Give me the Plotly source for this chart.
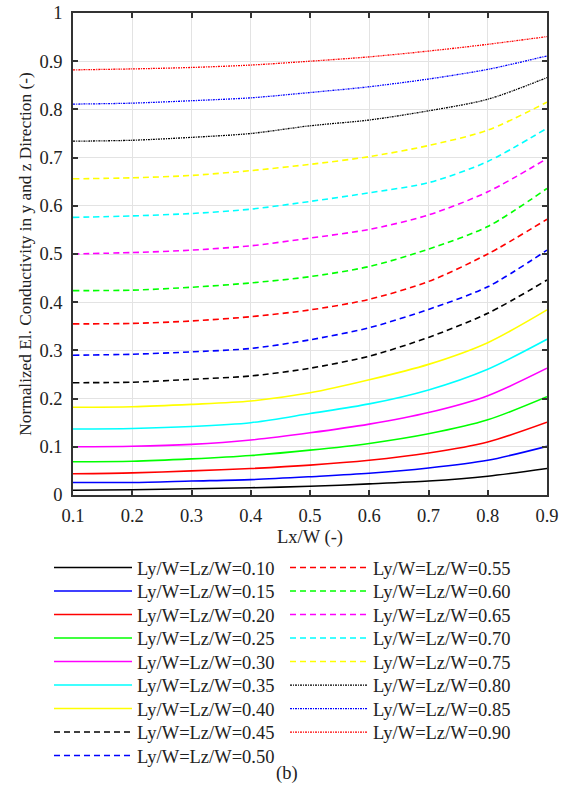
import plotly.graph_objects as go

lx = [0.1, 0.2, 0.3, 0.4, 0.5, 0.6, 0.7, 0.8, 0.9]

y010 = [0.010, 0.011, 0.013, 0.015, 0.018, 0.023, 0.029, 0.039, 0.055]
y015 = [0.026, 0.026, 0.029, 0.032, 0.038, 0.045, 0.056, 0.072, 0.101]
y020 = [0.044, 0.046, 0.050, 0.055, 0.062, 0.072, 0.087, 0.110, 0.151]
y025 = [0.069, 0.070, 0.075, 0.082, 0.093, 0.107, 0.127, 0.156, 0.204]
y030 = [0.100, 0.101, 0.105, 0.114, 0.129, 0.147, 0.171, 0.206, 0.263]
y035 = [0.137, 0.138, 0.142, 0.150, 0.169, 0.189, 0.218, 0.261, 0.323]
y040 = [0.182, 0.183, 0.188, 0.195, 0.212, 0.239, 0.271, 0.316, 0.384]
y045 = [0.233, 0.234, 0.240, 0.247, 0.263, 0.288, 0.327, 0.377, 0.446]
y050 = [0.290, 0.292, 0.297, 0.304, 0.322, 0.347, 0.385, 0.432, 0.508]
y055 = [0.355, 0.356, 0.361, 0.370, 0.384, 0.406, 0.443, 0.500, 0.572]
y060 = [0.424, 0.425, 0.431, 0.440, 0.453, 0.474, 0.510, 0.557, 0.636]
y065 = [0.500, 0.503, 0.508, 0.517, 0.533, 0.551, 0.581, 0.629, 0.698]
y070 = [0.576, 0.579, 0.584, 0.593, 0.609, 0.627, 0.648, 0.692, 0.761]
y075 = [0.656, 0.658, 0.663, 0.673, 0.686, 0.702, 0.725, 0.757, 0.815]
y080 = [0.734, 0.736, 0.742, 0.750, 0.766, 0.778, 0.797, 0.821, 0.866]
y085 = [0.811, 0.813, 0.818, 0.824, 0.835, 0.847, 0.863, 0.883, 0.911]
y090 = [0.882, 0.884, 0.887, 0.892, 0.900, 0.909, 0.921, 0.935, 0.951]

ratios = ["0.10", "0.15", "0.20", "0.25", "0.30", "0.35", "0.40", "0.45", "0.50",
          "0.55", "0.60", "0.65", "0.70", "0.75", "0.80", "0.85", "0.90"]
series = [y010, y015, y020, y025, y030, y035, y040, y045, y050,
          y055, y060, y065, y070, y075, y080, y085, y090]

colors = ["#000000", "#0000ff", "#ff0000", "#00ff00", "#ff00ff", "#00ffff", "#ffff00",
          "#000000", "#0000ff", "#ff0000", "#00ff00", "#ff00ff", "#00ffff", "#ffff00",
          "#000000", "#0000ff", "#ff0000"]

FONT = "Liberation Serif"
TXT = "#222222"
FS = 18.5

# plot-area geometry in px (for placing legend rows in paper coords)
W, H = 570, 789
ML, MR, MT, MB = 73, 23, 13, 294
PW, PH = W - ML - MR, H - MT - MB
ROW0, ROWSTEP = 568, 23.5
COLX = [49, 285]

fig = go.Figure()
legends = {}
for i, (r, ys, c) in enumerate(zip(ratios, series, colors)):
    if i < 7:
        dash, w = "solid", 1.6
    elif i < 14:
        dash, w = "6px,4px", 1.6
    else:
        dash, w = "2px,1px,1px,1px", 1.3
    lname = "legend" if i == 0 else f"legend{i + 1}"
    fig.add_trace(go.Scatter(
        x=lx, y=ys, mode="lines", name="Ly/W=Lz/W=" + r,
        line=dict(color=c, width=w, dash=dash, shape="spline", smoothing=0.8),
        legend=lname, showlegend=True,
    ))
    col = 0 if i < 9 else 1
    row = i if i < 9 else i - 9
    ypx = ROW0 + row * ROWSTEP
    legends[lname] = dict(
        x=(COLX[col] - ML) / PW, y=(MT + PH - ypx) / PH,
        xanchor="left", yanchor="middle",
        font=dict(family=FONT, size=FS, color=TXT),
        bgcolor="rgba(0,0,0,0)", itemwidth=78, borderwidth=0,
    )

axis_common = dict(
    showline=True, linecolor="#333333", linewidth=1.5, mirror="ticks",
    ticks="inside", ticklen=5, tickcolor="#333333", tickwidth=1.5,
    showgrid=True, gridcolor="#e3e3e3", gridwidth=1, zeroline=False,
    tickfont=dict(family=FONT, size=FS, color=TXT),
)

fig.update_layout(
    width=W, height=H, showlegend=True,
    margin=dict(l=ML, r=MR, t=MT, b=MB, autoexpand=False),
    paper_bgcolor="white", plot_bgcolor="white",
    font=dict(family=FONT, color=TXT),
    xaxis=dict(range=[0.1, 0.9], tickvals=lx, ticktext=[f"{v:.1f}" for v in lx],
               ticklabelstandoff=3,
               title=dict(text="Lx/W (-)", font=dict(family=FONT, size=FS), standoff=5),
               **axis_common),
    yaxis=dict(range=[0, 1], tickvals=[0, 0.1, 0.2, 0.3, 0.4, 0.5, 0.6, 0.7, 0.8, 0.9, 1],
               ticktext=["0", "0.1", "0.2", "0.3", "0.4", "0.5", "0.6", "0.7", "0.8", "0.9", "1"],
               ticklabelstandoff=5,
               title=dict(text="Normalized El. Conductivity in y and z Direction (-)",
                          font=dict(family=FONT, size=17.3), standoff=3),
               **axis_common),
    annotations=[dict(text="(b)", x=(287 - ML) / PW, y=(MT + PH - 773) / PH,
                      xref="paper", yref="paper", xanchor="center", yanchor="middle",
                      showarrow=False, font=dict(family=FONT, size=FS, color=TXT))],
    **legends,
)

fig.write_html("out.html")
